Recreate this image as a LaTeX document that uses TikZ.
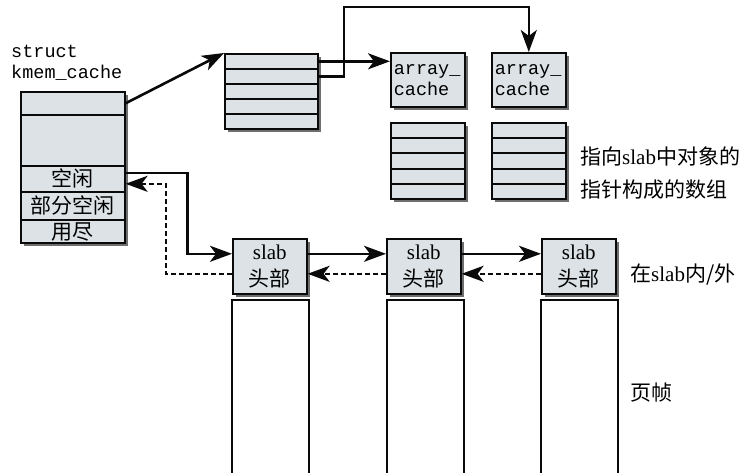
\documentclass[tikz,border=0pt]{standalone}
\usepackage{fontspec}
\setmainfont{Liberation Serif}
\setmonofont{Liberation Mono}
\newfontfamily\cjk{Noto Sans CJK SC}
\usetikzlibrary{arrows.meta,shadows}
\definecolor{cellfill}{HTML}{DCE2E5}
\definecolor{shade}{HTML}{6E6E6E}
\definecolor{ink}{HTML}{0A0A0A}
\begin{document}
\begin{tikzpicture}[x=1pt,y=-1pt,
  cell/.style={draw=ink, line width=1.6pt, fill=cellfill, inner sep=0pt, anchor=north west,
    drop shadow={shadow xshift=3pt,shadow yshift=-3pt,fill=shade,opacity=1}},
  cjkt/.style={font=\cjk\fontsize{21}{24}\selectfont, text height=16pt, text depth=0pt},
  monot/.style={font=\ttfamily\fontsize{18.5}{21}\selectfont},
  slabt/.style={align=center, font=\fontsize{21}{27}\selectfont},
  arr/.style={draw=ink, line width=2.6pt, -{Stealth[length=22pt,width=16pt,inset=6pt]}},
  darr/.style={arr, dash pattern=on 5pt off 3pt},
  frame/.style={draw=ink, line width=1.4pt},
  lbl/.style={anchor=west, inner sep=0pt, font=\fontsize{21}{33}\selectfont, align=left}
]
\useasboundingbox (0,0) rectangle (743,473);

% struct kmem_cache
\node[monot, anchor=west, align=left, inner sep=0pt] (kname) at (11,62.5) {struct\\kmem\_cache};
\node[cell, minimum width=104pt, minimum height=23pt] (k1) at (20,91) {};
\node[cell, minimum width=104pt, minimum height=51pt] (k2) at (20,114) {};
\node[cell, cjkt, minimum width=104pt, minimum height=26pt] (k3) at (20,165) {空闲};
\node[cell, cjkt, minimum width=104pt, minimum height=28pt] (k4) at (20,191) {部分空闲};
\node[cell, cjkt, minimum width=104pt, minimum height=23pt] (k5) at (20,219) {用尽};

% array of per-cpu pointers
\foreach \i in {1,...,5} {
  \node[cell, minimum width=93pt, minimum height=15pt] (a\i) at (224,{53+15*(\i-1)}) {};
}

% array_cache boxes
\node[cell, monot, minimum width=74pt, minimum height=54pt, text width=68pt, align=left] (ac1) at (390,52) {array\_\\cache};
\node[cell, monot, minimum width=74pt, minimum height=54pt, text width=68pt, align=left] (ac2) at (491,52) {array\_\\cache};

% pointer arrays
\foreach \i/\y/\h in {1/122/15,2/137/15,3/152/16,4/168/15,5/183/15} {
  \node[cell, minimum width=74pt, minimum height=\h pt] (p\i) at (390,\y) {};
  \node[cell, minimum width=74pt, minimum height=\h pt] (q\i) at (491,\y) {};
}

% slab headers
\node[cell, slabt, minimum width=74pt, minimum height=55pt] (s1) at (232,238) {slab\\{\cjk 头部}};
\node[cell, slabt, minimum width=74pt, minimum height=55pt] (s2) at (386,238) {slab\\{\cjk 头部}};
\node[cell, slabt, minimum width=74pt, minimum height=55pt] (s3) at (541,238) {slab\\{\cjk 头部}};

% page frames
\draw[frame] (232,476) -- (232,300) -- (309,300) -- (309,476);
\draw[frame] (387,476) -- (387,300) -- (464,300) -- (464,476);
\draw[frame] (541,476) -- (541,300) -- (618,300) -- (618,476);

% labels
\node[lbl] (t1) at (580,173.5) {{\cjk 指向}slab{\cjk 中对象的}\\{\cjk 指针构成的数组}};
\node[lbl] (t2) at (630,275) {{\cjk 在}slab{\cjk 内/外}};
\node[lbl] (t3) at (630,393) {{\cjk 页帧}};

% connectors
\coordinate (top) at (344,7);
\draw[arr] (k1.east) -- (a1.north west);
\draw[arr] (a1.east) -- (a1.east -| ac1.west);
\draw[arr] (a2.east) -| (top) -| (ac2.north);

\draw[arr] ([yshift=6pt]k3.east) -- ++(62,0) |- ([yshift=12.5pt]s1.west);
\draw[darr] ([yshift=-7.5pt]s1.west) -- ++(-66,0) |- ([yshift=-5pt]k3.east);

\draw[arr] ([yshift=12.5pt]s1.east) -- ([yshift=12.5pt]s2.west);
\draw[arr] ([yshift=12.5pt]s2.east) -- ([yshift=12.5pt]s3.west);
\draw[darr] ([yshift=-7.5pt]s2.west) -- ([yshift=-7.5pt]s1.east);
\draw[darr] ([yshift=-7.5pt]s3.west) -- ([yshift=-7.5pt]s2.east);
\end{tikzpicture}
\end{document}
